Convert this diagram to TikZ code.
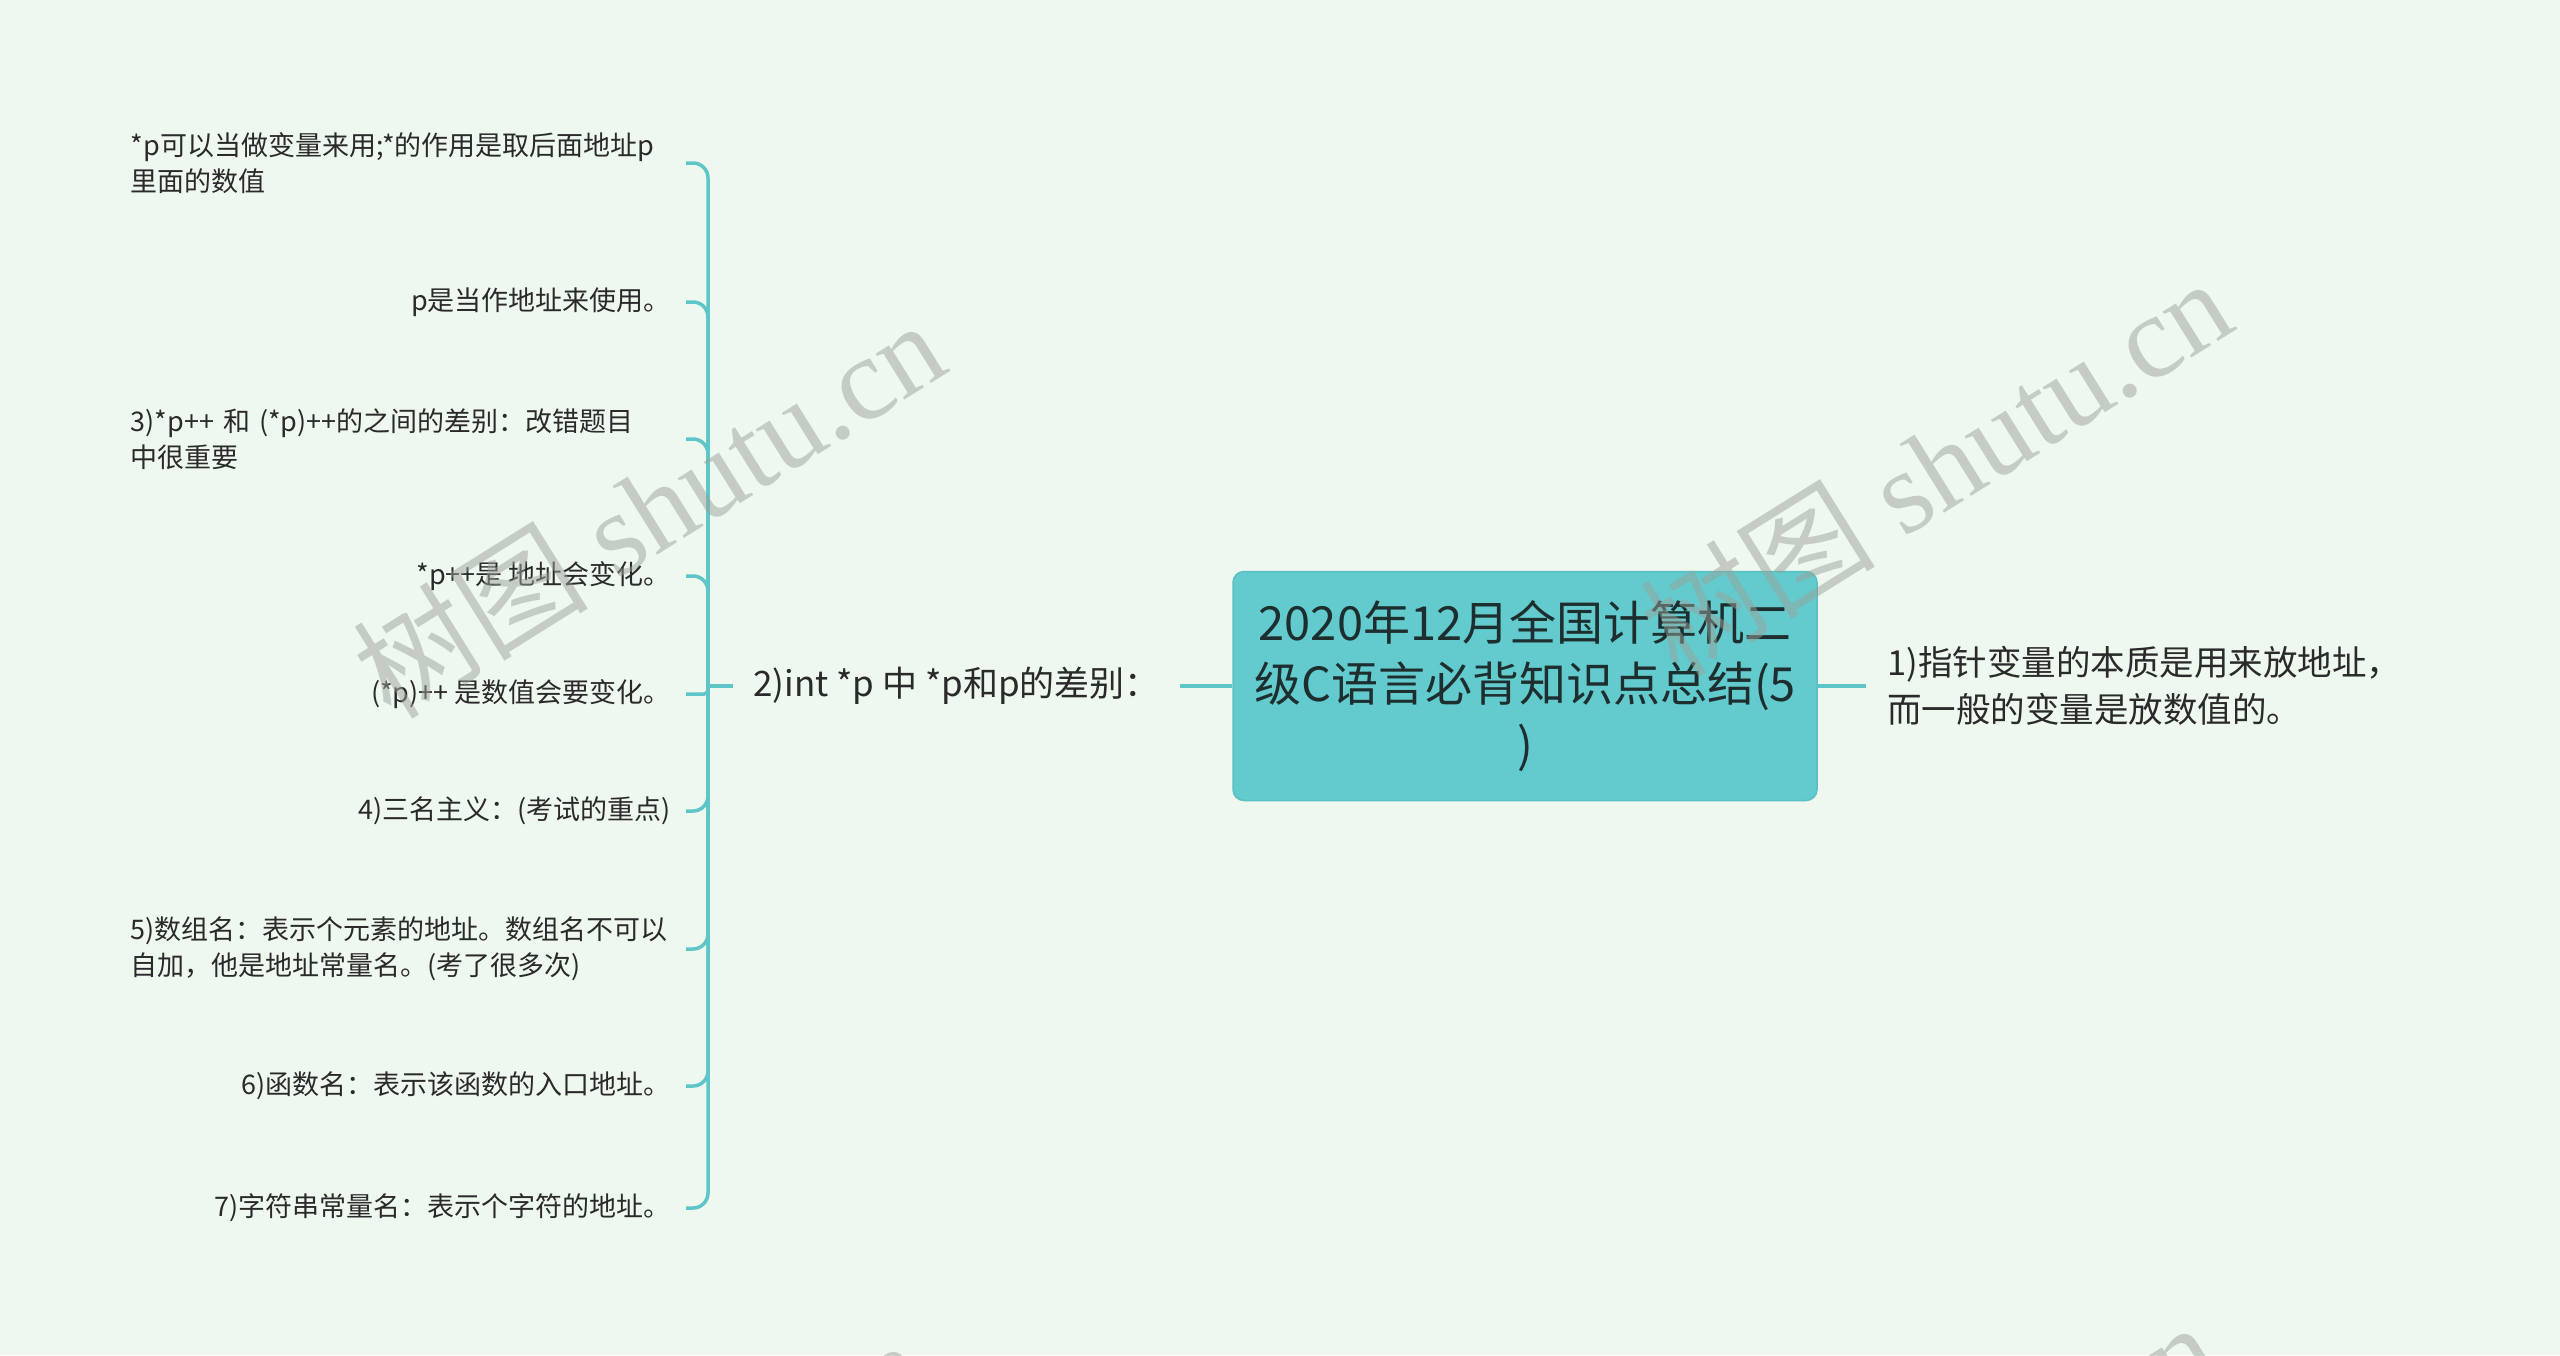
\documentclass[tikz,border=0pt]{standalone}
\usepackage{fontspec}
\setmainfont{Noto Sans CJK SC}
\newfontfamily\wmserif{Liberation Serif}
\newfontfamily\wmcjk{Noto Sans CJK SC}
\definecolor{bg}{HTML}{EFF8EE}
\definecolor{lin}{HTML}{5EC5C8}
\definecolor{boxfill}{HTML}{63CBCD}
\definecolor{boxline}{HTML}{58C0C2}
\definecolor{txt}{HTML}{2A2A2A}
\definecolor{ttl}{HTML}{1E2E2E}
\definecolor{wm}{HTML}{9AA29A}
\tikzset{
  leaf/.style={font=\fontsize{27}{36}\selectfont, text=txt, inner xsep=15pt, inner ysep=4pt, anchor=east},
  leafw/.style={leaf, text width=540pt, align=left},
  conn/.style={draw=lin, line width=3.5pt},
  branch/.style={conn, rounded corners=15pt},
  sub/.style={font=\fontsize{34.5}{47}\selectfont, text=txt, inner xsep=20pt, inner ysep=4pt},
  titlebox/.style={draw=boxline, line width=1.5pt, fill=boxfill, rounded corners=11pt,
    minimum width=584pt, minimum height=229pt, align=center, text=ttl,
    font=\fontsize{47}{61}\selectfont},
  wmark/.style={text=wm, opacity=0.5, rotate=32, inner sep=0pt}
}
\begin{document}
\begin{tikzpicture}[x=1pt,y=-1pt]
\useasboundingbox (0,0) rectangle (2560,1355);
\fill[bg] (0,0) rectangle (2560,1355);

% central topic
\node[titlebox] (root) at (1525,686) {2020年12月全国计算机二\\级C语言必背知识点总结(5\\)};

% main branches
\node[sub, anchor=west, font=\fontsize{35}{47}\selectfont] (b2) at (733,686) {2)int *p 中 *p和p的差别：};
\node[sub, anchor=west, inner xsep=21pt, align=left] (b1) at (1866,686) {1)指针变量的本质是用来放地址，\\而一般的变量是放数值的。};

% leaves
\node[leafw] (l1) at (686,163) {*p可以当做变量来用;*的作用是取后面地址p\\里面的数值};
\node[leaf]  (l2) at (686,302) {p是当作地址来使用。};
\node[leafw] (l3) at (686,439) {3)*p++ 和 (*p)++的之间的差别：改错题目\\中很重要};
\node[leaf]  (l4) at (686,576) {*p++是 地址会变化。};
\node[leaf]  (l5) at (686,694) {(*p)++ 是数值会要变化。};
\node[leaf]  (l6) at (686,811) {4)三名主义：(考试的重点)};
\node[leafw] (l7) at (686,949) {5)数组名：表示个元素的地址。数组名不可以\\自加，他是地址常量名。(考了很多次)};
\node[leaf]  (l8) at (686,1086) {6)函数名：表示该函数的入口地址。};
\node[leaf]  (l9) at (686,1208) {7)字符串常量名：表示个字符的地址。};

% connectors
\coordinate (hub) at (708,686);
\draw[conn] (root.east) -- (b1.west);
\draw[conn] (root.west) -- (b2.east);
\draw[conn] (b2.west) -- (hub);
\draw[branch] (hub) |- (l1.east);
\draw[branch] (hub) |- (l2.east);
\draw[branch] (hub) |- (l3.east);
\draw[branch] (hub) |- (l4.east);
\draw[conn, rounded corners=4pt] (hub) |- (l5.east);
\draw[branch] (hub) |- (l6.east);
\draw[branch] (hub) |- (l7.east);
\draw[branch] (hub) |- (l8.east);
\draw[branch] (hub) |- (l9.east);

% watermarks
\begin{scope}
\clip (0,0) rectangle (2560,1355);
\node[wmark] (wm1) at (648,508) {\fontsize{118}{118}\wmcjk 树图\wmserif\ shutu.cn};
\node[wmark] (wm2) at (1935,466) {\fontsize{118}{118}\wmcjk 树图\wmserif\ shutu.cn};
\node[wmark] (wm3) at (630,1528) {\fontsize{118}{118}\wmcjk 树图\wmserif\ shutu.cn};
\node[wmark] (wm4) at (1921,1510) {\fontsize{118}{118}\wmcjk 树图\wmserif\ shutu.cn};
\end{scope}
\end{tikzpicture}
\end{document}
